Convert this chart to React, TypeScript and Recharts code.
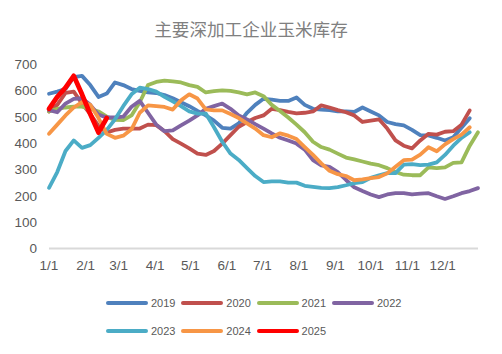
import React from 'react';
import { LineChart, Line, XAxis, YAxis, Legend } from 'recharts';

const title = '主要深加工企业玉米库存';
const monthTickDays = [0, 31, 59, 90, 120, 151, 181, 212, 243, 273, 304, 334];
const monthTickLabels = ['1/1', '2/1', '3/1', '4/1', '5/1', '6/1', '7/1', '8/1', '9/1', '10/1', '11/1', '12/1'];
const yTicks = [0, 100, 200, 300, 400, 500, 600, 700];

const s2019 = [587, 595, 605, 650, 655, 620, 575, 588, 630, 620, 605, 598, 592, 590, 582, 570, 555, 540, 522, 505, 485, 458, 455, 475, 515, 545, 568, 565, 560, 560, 573, 545, 530, 527, 525, 520, 520, 518, 535, 520, 505, 480, 472, 467, 450, 430, 429, 420, 410, 422, 458, 494];
const s2020 = [520, 545, 590, 595, 550, 510, 465, 440, 450, 455, 455, 455, 470, 468, 445, 415, 398, 380, 360, 355, 370, 398, 430, 462, 480, 495, 505, 530, 525, 518, 513, 515, 520, 543, 535, 525, 517, 505, 480, 485, 490, 455, 410, 390, 380, 410, 435, 432, 443, 445, 470, 524];
const s2021 = [520, 530, 535, 538, 538, 530, 520, 500, 488, 487, 505, 555, 620, 632, 637, 634, 630, 620, 613, 592, 597, 600, 598, 592, 585, 592, 578, 545, 522, 497, 470, 441, 405, 385, 375, 360, 345, 338, 330, 322, 316, 305, 290, 280, 278, 278, 308, 305, 308, 325, 327, 390, 441];
const s2022 = [525, 517, 550, 568, 570, 545, 508, 497, 497, 500, 538, 560, 515, 470, 445, 448, 467, 485, 505, 530, 540, 550, 530, 505, 490, 472, 455, 437, 420, 410, 398, 375, 335, 315, 310, 290, 260, 232, 218, 205, 195, 205, 210, 210, 205, 208, 210, 198, 188, 198, 210, 218, 229];
const s2023 = [230, 290, 370, 410, 382, 392, 420, 450, 490, 540, 585, 610, 605, 595, 575, 558, 540, 520, 512, 512, 460, 405, 360, 336, 305, 275, 252, 255, 255, 250, 250, 238, 234, 230, 229, 233, 240, 248, 252, 268, 278, 286, 286, 318, 320, 316, 318, 327, 355, 390, 420, 441];
const s2024 = [435, 470, 505, 535, 555, 545, 495, 435, 420, 428, 452, 515, 543, 540, 537, 527, 562, 585, 569, 528, 524, 524, 510, 495, 475, 455, 430, 422, 437, 428, 415, 385, 355, 323, 295, 282, 275, 259, 262, 267, 271, 285, 310, 335, 337, 356, 384, 369, 395, 415, 432, 460];
const s2025 = [530, 575, 610, 655, 585, 510, 440, 495];

const seriesNames = ['2019', '2020', '2021', '2022', '2023', '2024', '2025'];
const seriesValues = [s2019, s2020, s2021, s2022, s2023, s2024, s2025];
const seriesColors = ['#4F81BD', '#C0504D', '#9BBB59', '#8064A2', '#4BACC6', '#F79646', '#FF0000'];
const seriesWidths = [3.8, 3.8, 3.8, 3.8, 3.8, 3.8, 4.8];

const weekCount = 53;
const data = Array.from({ length: weekCount }, (_, i) => {
  const row: Record<string, number | null> = { day: i * 7 };
  seriesNames.forEach((name, k) => {
    const v = seriesValues[k][i];
    row[name] = v === undefined ? null : v;
  });
  return row;
});

const tickFont = { fill: '#595959', fontSize: 13.5, fontFamily: '"Liberation Sans", Arial, sans-serif' };

const LegendContent = () => {
  const rows = [seriesNames.slice(0, 4), seriesNames.slice(4)];
  return (
    <div style={{ position: 'relative', width: 502, height: 44, fontFamily: '"Liberation Sans", Arial, sans-serif', fontSize: 11, color: '#595959' }}>
      {rows.map((row, r) => (
        <div key={r} style={{ position: 'absolute', left: 106, top: r * 28.3, height: 14, display: 'flex', alignItems: 'center' }}>
          {row.map((name) => {
            const k = seriesNames.indexOf(name);
            return (
              <div key={name} style={{ display: 'flex', alignItems: 'center', width: 75.3, height: 14 }}>
                <span style={{ display: 'inline-block', width: 42, height: 3.8, borderRadius: 2, background: seriesColors[k] }} />
                <span style={{ marginLeft: 3, lineHeight: '14px' }}>{name}</span>
              </div>
            );
          })}
        </div>
      ))}
    </div>
  );
};

export default function App() {
  return (
    <div style={{ position: 'absolute', left: 0, top: 0, width: 502, height: 354, background: '#fff' }}>
      <div style={{ position: 'absolute', left: 0, top: 19.7, width: 502, textAlign: 'center', fontFamily: '"Noto Sans CJK SC", sans-serif', fontSize: 17.6, lineHeight: 1, color: '#808080', zIndex: 2 }}>
        {title}
      </div>
      <LineChart width={502} height={354} data={data} margin={{ top: 64, right: 24, bottom: 75.5, left: 8 }}>
        <XAxis
          type="number"
          dataKey="day"
          domain={[0, 364]}
          ticks={monthTickDays}
          interval={0}
          tickFormatter={(v: number) => monthTickLabels[monthTickDays.indexOf(v)] ?? ''}
          axisLine={{ stroke: '#D9D9D9', strokeWidth: 2 }}
          tickLine={false}
          tickMargin={6}
          height={30}
          tick={tickFont}
        />
        <YAxis
          domain={[0, 700]}
          ticks={yTicks}
          interval={0}
          axisLine={false}
          tickLine={false}
          tickMargin={6}
          width={41}
          tick={tickFont}
        />
        <Legend
          layout="vertical"
          align="center"
          verticalAlign="middle"
          content={() => <LegendContent />}
          wrapperStyle={{ left: 0, top: 296, width: 502, height: 44 }}
        />
        {seriesNames.map((name, k) => (
          <Line
            key={name}
            type="linear"
            dataKey={name}
            stroke={seriesColors[k]}
            strokeWidth={seriesWidths[k]}
            strokeLinejoin="round"
            strokeLinecap="round"
            dot={false}
            activeDot={false}
            isAnimationActive={false}
          />
        ))}
      </LineChart>
    </div>
  );
}
